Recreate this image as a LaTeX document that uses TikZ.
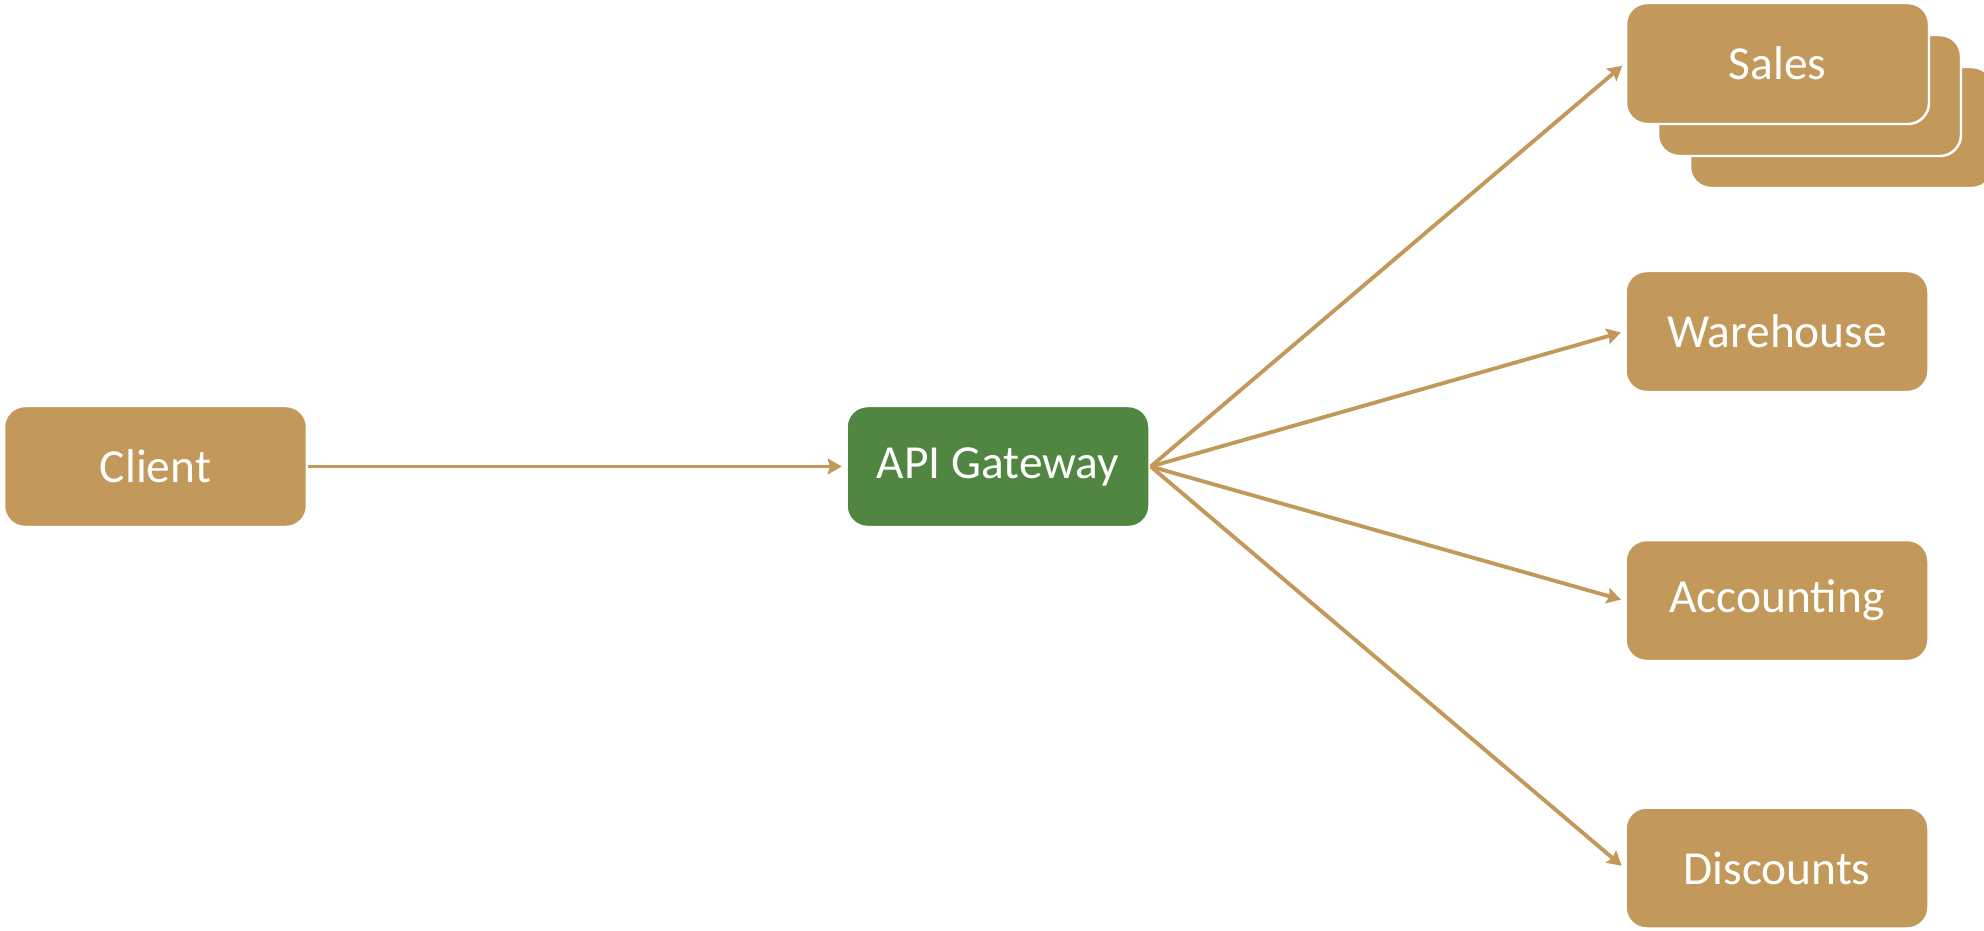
\documentclass[tikz,border=0pt]{standalone}
\usepackage{fontspec}
\setmainfont{Carlito}
\usetikzlibrary{arrows.meta}
\definecolor{tan}{HTML}{C3995B}
\definecolor{gwgreen}{HTML}{508641}
\tikzset{
  svc/.style={rectangle, rounded corners=0.42cm, minimum width=6.06cm, minimum height=2.42cm,
    inner sep=0pt, fill=tan, draw=white, line width=1.4pt, text=white,
    font=\fontsize{27pt}{32pt}\selectfont},
  gw/.style={svc, fill=gwgreen},
  conn/.style={draw=tan, line width=2.2pt, -{Stealth[length=8pt, width=9pt, inset=1.2pt]}, shorten >=2pt}
}
\begin{document}
\begin{tikzpicture}[x=0.02cm, y=-0.02cm]
\useasboundingbox (0,0) rectangle (1984,930);
\clip (0,0) rectangle (1984,930);
\fill[white] (0,0) rectangle (1984,930);
% Sales stack (back to front)
\node[svc] (sales3) at (1841.5,127.5) {};
\node[svc] (sales2) at (1809.5,95.5) {};
\node[svc] (sales) at (1777.5,63.5) {Sales};
\node[svc] (warehouse) at (1777,331.5) {Warehouse};
\node[svc] (accounting) at (1777,600.5) {Accounting};
\node[svc] (discounts) at (1777,868) {Discounts};
\node[svc] (client) at (155.5,466.5) {Client};
\node[gw] (api) at (998,466.5) {API Gateway};
\draw[conn] (client.east) -- (api.west);
\draw[conn] (api.east) -- (sales.west);
\draw[conn] (api.east) -- (warehouse.west);
\draw[conn] (api.east) -- (accounting.west);
\draw[conn] (api.east) -- (discounts.west);
\end{tikzpicture}
\end{document}
